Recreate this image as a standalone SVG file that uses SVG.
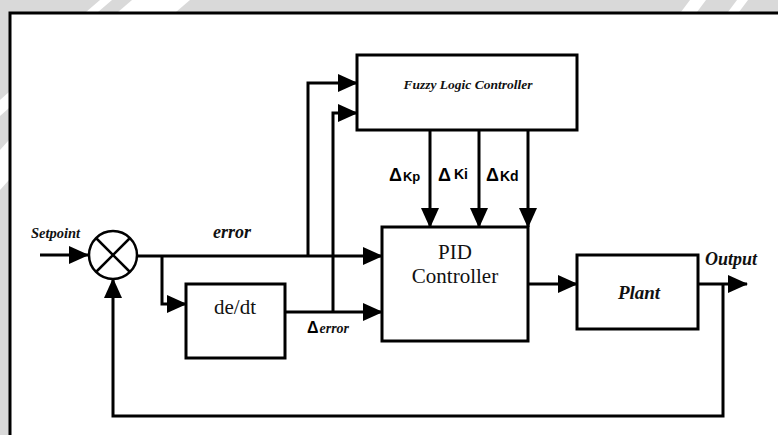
<svg xmlns="http://www.w3.org/2000/svg" width="778" height="435" viewBox="0 0 778 435">
<style>
.box{fill:#fff;stroke:#000;stroke-width:3}
.ln{fill:none;stroke:#000;stroke-width:3}
.serif{font-family:"Liberation Serif","Times New Roman",serif;fill:#111}
.bi{font-weight:bold;font-style:italic}
.sans{font-family:"Liberation Sans",Arial,sans-serif;font-weight:bold;fill:#000}
.wm{fill:#fff}
</style>
<defs>
<marker id="ah" viewBox="0 0 20 18" refX="19" refY="9" markerWidth="20" markerHeight="18" markerUnits="userSpaceOnUse" orient="auto">
<path d="M0,0 L20,9 L0,18 Z" fill="#000"/>
</marker>
</defs>
<rect x="0" y="0" width="778" height="435" fill="#d9d9d9"/>
<g id="watermark">
<polygon class="wm" points="86,12 100,0 112,0 98,12"/>
<polygon class="wm" points="118,12 132,0 190,0 176,12"/>
<polygon class="wm" points="681,12 690,0 706,0 697,12"/>
<polygon class="wm" points="728,12 737,0 748,0 739,12"/>
<polygon class="wm" points="0,100 9,92 9,108 0,116"/>
<polygon class="wm" points="0,150 9,140 9,180 0,190"/>
</g>
<rect id="frame" x="10" y="13" width="772" height="430" fill="#fff" stroke="#000" stroke-width="3"/>
<g id="connectors">
<path class="ln" d="M40,255 H88" marker-end="url(#ah)"/>
<path class="ln" d="M138,256 H382" marker-end="url(#ah)"/>
<path class="ln" d="M308,256 V83 H357" marker-end="url(#ah)"/>
<path class="ln" d="M162,256 V304 H186" marker-end="url(#ah)"/>
<path class="ln" d="M285,312 H382" marker-end="url(#ah)"/>
<path class="ln" d="M333,312 V113 H357" marker-end="url(#ah)"/>
<path class="ln" d="M430,130 V227" marker-end="url(#ah)"/>
<path class="ln" d="M479,130 V227" marker-end="url(#ah)"/>
<path class="ln" d="M528,130 V227" marker-end="url(#ah)"/>
<path class="ln" d="M528,284 H577" marker-end="url(#ah)"/>
<path class="ln" d="M698,284 H747" marker-end="url(#ah)"/>
<path class="ln" d="M723,284 V416 H113 V279" marker-end="url(#ah)"/>
</g>
<g id="sum">
<circle cx="113" cy="255" r="24" fill="#fff" stroke="#000" stroke-width="2.5"/>
<path d="M96,238 L130,272 M130,238 L96,272" stroke="#000" stroke-width="2.5"/>
</g>
<g id="fuzzy">
<rect class="box" x="357" y="55" width="220" height="75"/>
<text class="serif bi" x="468" y="89" font-size="13.5" text-anchor="middle">Fuzzy Logic Controller</text>
</g>
<g id="pid">
<rect class="box" x="382" y="227" width="146" height="114"/>
<text class="serif" x="455" y="259" font-size="21" text-anchor="middle">PID</text>
<text class="serif" x="455" y="283" font-size="21" text-anchor="middle">Controller</text>
</g>
<g id="dedt">
<rect class="box" x="186" y="284" width="99" height="74"/>
<text class="serif" x="235" y="314" font-size="21" text-anchor="middle">de/dt</text>
</g>
<g id="plant">
<rect class="box" x="577" y="255" width="121" height="74"/>
<text class="serif bi" x="639" y="299" font-size="19" text-anchor="middle">Plant</text>
</g>
<g id="labels">
<text class="serif bi" x="31" y="238" font-size="14.5">Setpoint</text>
<text class="serif bi" x="213" y="238" font-size="18">error</text>
<text x="307" y="333"><tspan class="sans" font-size="16">Δ</tspan><tspan class="serif bi" font-size="14" dx="1">error</tspan></text>
<text class="serif bi" x="705" y="265" font-size="18">Output</text>
<text x="389" y="181"><tspan class="sans" font-size="18">Δ</tspan><tspan class="sans" font-size="13" dx="1">Kp</tspan></text>
<text x="438" y="181"><tspan class="sans" font-size="18">Δ</tspan><tspan class="sans" font-size="14" dx="3" dy="-2">Ki</tspan></text>
<text x="486" y="181"><tspan class="sans" font-size="18">Δ</tspan><tspan class="sans" font-size="14" dx="1">Kd</tspan></text>
</g>
</svg>
